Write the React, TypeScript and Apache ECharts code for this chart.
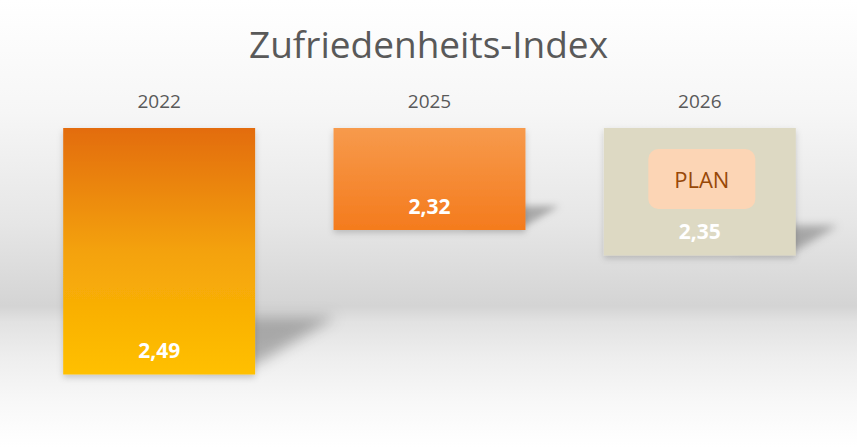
import React, { useEffect, useRef } from "react";
import * as echarts from "echarts";

const title = "Zufriedenheits-Index";
const categories = ["2022", "2025", "2026"];
const values = [2.49, 2.32, 2.35];
const isPlan = [false, false, true];
const planText = "PLAN";
const axisMin = 2.2;
const axisMax = 2.5;

const FONT = '"Open Sans", "Liberation Sans", sans-serif';

const barColors = [
  new echarts.graphic.LinearGradient(0, 0, 0, 1, [
    { offset: 0, color: "#E36C09" },
    { offset: 0.5, color: "#F4A20A" },
    { offset: 1, color: "#FFC000" },
  ]),
  new echarts.graphic.LinearGradient(0, 0, 0, 1, [
    { offset: 0, color: "#F79A4C" },
    { offset: 1, color: "#F47B1D" },
  ]),
  "#DDD9C3",
];

const BAR_FRAC = 0.71;

export default function App() {
  const ref = useRef<HTMLDivElement>(null);
  useEffect(() => {
    if (!ref.current) return;
    const chart = echarts.init(ref.current, null, { renderer: "svg" });
    const seriesData = values.map((v, i) => [i, v]);
    chart.setOption({
      animation: false,
      backgroundColor: new echarts.graphic.LinearGradient(0, 0, 0, 1, [
        { offset: 0, color: "#ffffff" },
        { offset: 0.25, color: "#f6f6f6" },
        { offset: 0.5, color: "#e6e6e6" },
        { offset: 0.685, color: "#d4d4d4" },
        { offset: 0.72, color: "#e2e2e2" },
        { offset: 0.8, color: "#eeeeee" },
        { offset: 0.9, color: "#f8f8f8" },
        { offset: 1, color: "#ffffff" },
      ]),
      title: {
        text: title,
        left: "center",
        top: 20,
        textStyle: {
          fontFamily: FONT,
          fontSize: 37,
          fontWeight: "normal",
          color: "#595959",
        },
      },
      grid: { left: 24, right: 22, top: 128, height: 255 },
      xAxis: {
        type: "category",
        data: categories,
        position: "top",
        axisLine: { show: false },
        axisTick: { show: false },
        axisLabel: {
          margin: 18,
          fontFamily: FONT,
          fontSize: 19,
          color: "#595959",
        },
      },
      yAxis: {
        type: "value",
        min: axisMin,
        max: axisMax,
        inverse: true,
        show: false,
        splitLine: { show: false },
      },
      series: [
        {
          type: "custom",
          z: 1,
          data: seriesData,
          silent: true,
          renderItem: (params: any, api: any) => {
            const idx = api.value(0);
            const v = api.value(1);
            const bot = api.coord([idx, v]);
            const top = api.coord([idx, axisMin]);
            const bw = api.size([1, 0])[0] * BAR_FRAC;
            const h = bot[1] - top[1];
            const dx = h * 0.33;
            const dy = h * 0.195;
            const right = bot[0] + bw / 2;
            const y = bot[1] - h * 0.04;
            const xc = right - 60;
            const off = dx + 4;
            const blur = h * 0.045 + 3;
            // shape is hidden behind the bar; only its drop shadow is visible
            return {
              type: "polygon",
              shape: {
                points: [
                  [xc - off, y],
                  [right - off, y],
                  [right + dx - off, y - dy],
                  [xc - off, y - dy],
                ],
              },
              style: {
                fill: "#000000",
                shadowBlur: blur,
                shadowOffsetX: off,
                shadowOffsetY: 0,
                shadowColor: "rgba(0,0,0,0.27)",
              },
            };
          },
        },
        {
          type: "bar",
          z: 2,
          barWidth: BAR_FRAC * 100 + "%",
          data: values.map((v, i) => ({
            value: v,
            itemStyle: {
              color: barColors[i],
              shadowBlur: 6,
              shadowOffsetY: 3,
              shadowColor: "rgba(0,0,0,0.18)",
            },
          })),
          label: {
            show: true,
            position: "insideBottom",
            distance: 14,
            fontFamily: FONT,
            fontSize: 21,
            fontWeight: "bold",
            color: "#ffffff",
            formatter: (p: any) => Number(p.value).toFixed(2).replace(".", ","),
          },
        },
        {
          type: "custom",
          z: 3,
          silent: true,
          data: seriesData,
          renderItem: (params: any, api: any) => {
            const idx = api.value(0);
            if (!isPlan[idx]) return null;
            const top = api.coord([idx, axisMin]);
            const cx = top[0];
            const w = 107;
            const hh = 60;
            const y0 = top[1] + 21;
            return {
              type: "group",
              children: [
                {
                  type: "rect",
                  shape: { x: cx + 2 - w / 2, y: y0, width: w, height: hh, r: 10 },
                  style: { fill: "#FCD5B5" },
                },
                {
                  type: "text",
                  style: {
                    text: planText,
                    x: cx + 2,
                    y: y0 + hh / 2,
                    align: "center",
                    verticalAlign: "middle",
                    fill: "#984807",
                    fontFamily: FONT,
                    fontSize: 22,
                  },
                },
              ],
            };
          },
        },
      ],
    });
    return () => chart.dispose();
  }, []);
  return (
    <div
      ref={ref}
      style={{ position: "absolute", left: 0, top: 0, width: 857, height: 447 }}
    />
  );
}
